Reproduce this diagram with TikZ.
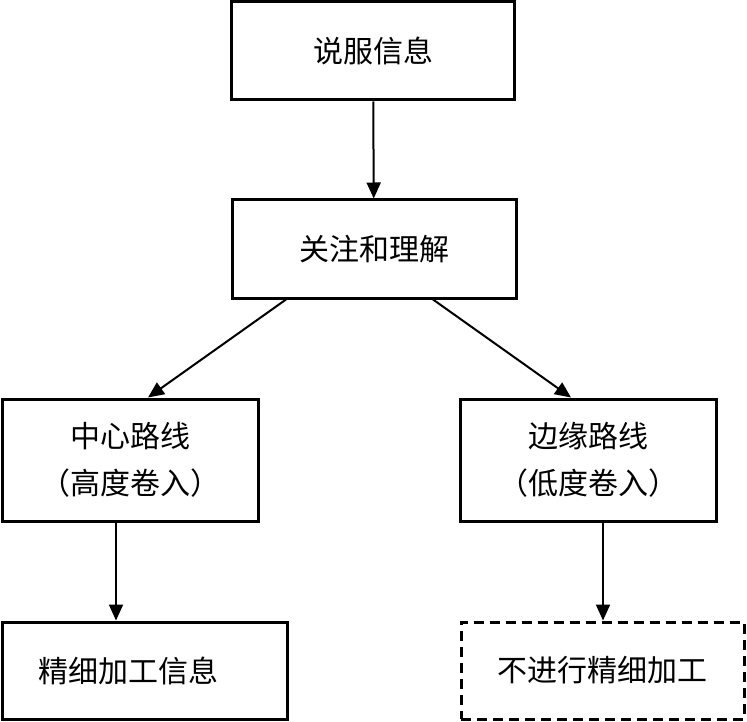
\documentclass[tikz,border=0pt]{standalone}
\usepackage{fontspec}
\newfontfamily\cjk{Noto Sans CJK SC}
\usetikzlibrary{arrows.meta}
\begin{document}
\begin{tikzpicture}[x=1pt,y=-1pt,
  boxstyle/.style={draw=black, line width=3pt, inner sep=0pt, align=center,
    font=\cjk\fontsize{30pt}{47pt}\selectfont},
  dashbox/.style={boxstyle, dash pattern=on 10pt off 6pt},
  arr/.style={line width=2pt, -{Triangle[length=16pt,width=14pt]}}]
\useasboundingbox (0,0) rectangle (747,722);
\node[boxstyle, minimum width=283pt, minimum height=98pt] (b1) at (373,51) {说服信息};
\node[boxstyle, minimum width=284pt, minimum height=98pt] (b2) at (374,249) {关注和理解};
\node[boxstyle, minimum width=256pt, minimum height=122pt] (b3) at (130,460) {中心路线\\（高度卷入）};
\node[boxstyle, minimum width=256pt, minimum height=122pt] (b4) at (588,460) {边缘路线\\（低度卷入）};
\node[boxstyle, minimum width=285pt, minimum height=97pt] (b5) at (144.5,670.5) {\raisebox{-8pt}{精细加工信息}\hspace{32pt}};
\node[dashbox, minimum width=283pt, minimum height=97pt] (b6) at (602.5,670.5) {\raisebox{-6pt}{不进行精细加工}};
\draw[arr] (b1) -- (b2);
\draw[arr] ([xshift=-88pt]b2.south) -- ([xshift=18pt]b3.north);
\draw[arr] ([xshift=59pt]b2.south) -- ([xshift=-17pt]b4.north);
\draw[arr] ([xshift=-14pt]b3.south) -- ([xshift=-14pt]b3.south |- b5.north);
\draw[arr] ([xshift=15pt]b4.south) -- ([xshift=15pt]b4.south |- b6.north);
\end{tikzpicture}
\end{document}
